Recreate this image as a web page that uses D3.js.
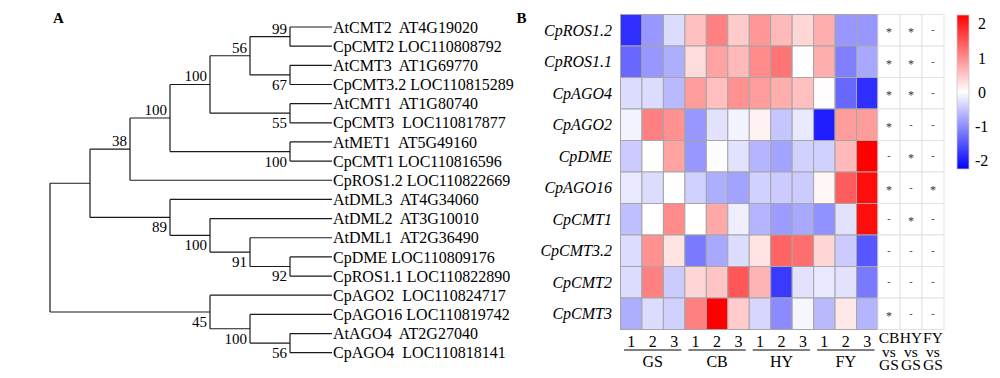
<!DOCTYPE html>
<html><head><meta charset="utf-8">
<script src="https://cdn.jsdelivr.net/npm/d3@7/dist/d3.min.js"></script>
<style>
html,body{margin:0;padding:0;background:#fff;}
svg{display:block;font-family:"Liberation Serif","Times New Roman",serif;}
</style></head>
<body><svg id="chart" width="1000" height="378"></svg>
<script>
// ---------- Panel A: tree ----------
const treeNewick = "(((((((AtCMT2,CpCMT2)99,(AtCMT3,CpCMT3.2)67)56,(AtCMT1,CpCMT3)55)100,(AtMET1,CpCMT1)100)100,CpROS1.2)38,(AtDML3,(AtDML2,(AtDML1,(CpDME,CpROS1.1)92)91)100)89),(CpAGO2,(CpAGO16,(AtAGO4,CpAGO4)56)100)45)";
const leafNames = ["AtCMT2","CpCMT2","AtCMT3","CpCMT3.2","AtCMT1","CpCMT3","AtMET1","CpCMT1","CpROS1.2","AtDML3","AtDML2","AtDML1","CpDME","CpROS1.1","CpAGO2","CpAGO16","AtAGO4","CpAGO4"];
const leafIds = ["AT4G19020","LOC110808792","AT1G69770","LOC110815289","AT1G80740","LOC110817877","AT5G49160","LOC110816596","LOC110822669","AT4G34060","AT3G10010","AT2G36490","LOC110809176","LOC110822890","LOC110824717","LOC110819742","AT2G27040","LOC110818141"];
const leafGap = ["  "," ","  "," ","  ","  ","  "," "," ","  ","  ","  "," "," ","  "," ","  ","  "];

// ---------- Panel B: heatmap ----------
const genes = ["CpROS1.2","CpROS1.1","CpAGO4","CpAGO2","CpDME","CpAGO16","CpCMT1","CpCMT3.2","CpCMT2","CpCMT3"];
const sampleLabels = ["1","2","3","1","2","3","1","2","3","1","2","3"];
const groups = ["GS","CB","HY","FY"];
const values = [
  [-1.8,-0.9,-0.3, 0.55,1.1,0.45, 0.9,0.6,0.35, 0.7,-0.9,-0.9],
  [-1.3,-0.9,-0.7, 0.3,0.8,0.6, 1.0,1.2,0.0, 0.7,-1.1,-0.75],
  [-0.3,-0.3,-0.6, 0.85,0.55,0.95, 0.85,0.7,0.55, 0.02,-1.3,-1.8],
  [-0.1,1.1,0.95, -0.9,-0.25,-0.1, 0.12,-0.5,-0.2, -1.95,0.85,0.85],
  [-0.45,0.0,0.8, -0.9,-0.02,-0.25, -0.65,-0.8,-0.4, -0.4,0.6,2.2],
  [-0.2,-0.3,0.0, -0.4,-0.7,-0.8, -0.4,-0.45,-0.45, 0.08,1.4,2.1],
  [-0.55,0.0,1.0, 0.0,0.75,-0.15, -0.65,-0.85,-0.75, -0.95,-0.25,2.1],
  [-0.3,0.95,0.25, -1.15,-0.75,-0.3, 0.25,1.35,1.25, 0.35,-0.45,-1.45],
  [-0.3,1.1,-0.45, 0.35,0.5,1.45, 0.65,-1.7,-0.25, -0.2,-0.25,-1.15],
  [-0.7,-0.3,-0.4, 1.1,2.2,0.45, -0.35,-1.0,-0.08, -0.6,0.2,-0.65]
];
const comparisons = ["CB vs GS","HY vs GS","FY vs GS"];
const signif = [
  ["*","*","-"],["*","*","-"],["*","*","-"],["*","-","-"],["-","*","-"],
  ["*","-","*"],["-","*","-"],["-","-","-"],["-","-","-"],["*","-","-"]
];
const legendTicks = [2,1,0,-1,-2];

// ---------- parse newick ----------
function parseNewick(s){
  let i=0;
  function node(){
    const n={};
    if(s[i]==="("){
      i++; n.children=[];
      while(true){ n.children.push(node()); if(s[i]===","){i++;continue;} if(s[i]===")"){i++;break;} }
    }
    let tok="";
    while(i<s.length && !",()".includes(s[i])){tok+=s[i];i++;}
    if(n.children){ if(tok) n.support=tok; } else n.name=tok;
    return n;
  }
  return node();
}

const svg = d3.select("#chart");
const ink = "#1a1a1a";

const root = d3.hierarchy(parseNewick(treeNewick));
const xT = d3.scaleLinear().domain([root.height,0]).range([50,330]);
const yT = d3.scalePoint().domain(leafNames).range([27,352.7]);
root.eachAfter(n=>{
  n.px = xT(n.height);
  if(!n.children) n.py = yT(n.data.name);
  else n.py = (n.children[0].py + n.children[n.children.length-1].py)/2;
});
const gT = svg.append("g");
root.each(n=>{
  if(n.children){
    gT.append("line").attr("x1",n.px).attr("x2",n.px)
      .attr("y1",n.children[0].py).attr("y2",n.children[n.children.length-1].py)
      .attr("stroke",ink).attr("stroke-width",1.2);
  }
  if(n.parent){
    const xe = n.children ? n.px : n.px+2;
    gT.append("line").attr("x1",n.parent.px).attr("x2",xe)
      .attr("y1",n.py).attr("y2",n.py).attr("stroke",ink).attr("stroke-width",1.2);
  }
  if(n.children && n.data.support){
    const first = n.parent && n.parent.children[0]===n;
    gT.append("text").attr("x",n.px-3).attr("y",first? n.py-3 : n.py+15)
      .attr("text-anchor","end").attr("font-size",15).attr("fill","#000")
      .text(n.data.support);
  }
});
root.leaves().forEach(n=>{
  const k = leafNames.indexOf(n.data.name);
  gT.append("text").attr("x",333).attr("y",n.py).attr("dy","0.35em")
    .attr("font-size",16).attr("fill","#000").attr("xml:space","preserve")
    .style("white-space","pre")
    .text(n.data.name + leafGap[k] + leafIds[k]);
});
svg.append("text").attr("x",53).attr("y",23.3).attr("font-size",15).attr("font-weight","bold").text("A");
svg.append("text").attr("x",516.5).attr("y",22.7).attr("font-size",15).attr("font-weight","bold").text("B");

// ---------- heatmap ----------
const xH = d3.scaleBand().domain(d3.range(sampleLabels.length)).range([620.5,878]);
const yH = d3.scaleBand().domain(genes).range([14.5,329.5]);
const color = d3.scaleLinear().domain([-2.2,0,2.2]).range(["#0000ff","#ffffff","#ff0000"]).clamp(true);
const gH = svg.append("g");
values.forEach((row,r)=>{
  row.forEach((v,c)=>{
    gH.append("rect").attr("x",xH(c)).attr("y",yH(genes[r]))
      .attr("width",xH.bandwidth()).attr("height",yH.bandwidth())
      .attr("fill",color(v)).attr("stroke","#a6a6a6").attr("stroke-width",1);
  });
});
genes.forEach(g=>{
  gH.append("text").attr("x",612).attr("y",yH(g)+yH.bandwidth()/2).attr("dy","0.35em")
    .attr("text-anchor","end").attr("font-size",16).attr("font-style","italic").text(g);
});
sampleLabels.forEach((s,c)=>{
  gH.append("text").attr("x",xH(c)+xH.bandwidth()/2).attr("y",346.5)
    .attr("text-anchor","middle").attr("font-size",16).text(s);
});
groups.forEach((g,i)=>{
  const x0 = xH(i*3), x1 = xH(i*3+2)+xH.bandwidth();
  gH.append("line").attr("x1",x0+3.5).attr("x2",x1-3.5).attr("y1",350).attr("y2",350)
    .attr("stroke","#555").attr("stroke-width",1.5);
  gH.append("text").attr("x",(x0+x1)/2).attr("y",366.5).attr("text-anchor","middle")
    .attr("font-size",16).text(g);
});

// ---------- significance columns ----------
const xS = d3.scaleBand().domain(comparisons).range([878,944]);
signif.forEach((row,r)=>{
  row.forEach((s,c)=>{
    const cx = xS(comparisons[c]), cy = yH(genes[r]);
    gH.append("rect").attr("x",cx).attr("y",cy).attr("width",xS.bandwidth()).attr("height",yH.bandwidth())
      .attr("fill","#fff").attr("stroke","#e2e2e2").attr("stroke-width",1);
    gH.append("text").attr("x",cx+xS.bandwidth()/2)
      .attr("y",cy+yH.bandwidth()/2 + (s==="*"?6:3))
      .attr("text-anchor","middle").attr("font-size",s==="*"?12:10).attr("fill","#333").text(s);
  });
});
comparisons.forEach(cmp=>{
  const parts = cmp.split(" ");
  const cx = xS(cmp)+xS.bandwidth()/2;
  [343,356.5,369.5].forEach((yy,i)=>{
    gH.append("text").attr("x",cx).attr("y",yy).attr("text-anchor","middle")
      .attr("font-size",15.5).text(parts[i]);
  });
});

// ---------- legend ----------
const yL = d3.scaleLinear().domain([-2.26,2.26]).range([169,15]);
const defs = svg.append("defs");
const grad = defs.append("linearGradient").attr("id","lg").attr("x1",0).attr("x2",0).attr("y1",1).attr("y2",0);
[-2.26,0,2.26].forEach(v=>{
  grad.append("stop").attr("offset",(v+2.26)/4.52).attr("stop-color",color(v));
});
svg.append("rect").attr("x",957).attr("y",yL(2.26)).attr("width",12).attr("height",yL(-2.26)-yL(2.26))
  .attr("fill","url(#lg)").attr("stroke","#c8c8c8").attr("stroke-width",0.8);
legendTicks.forEach(t=>{
  svg.append("text").attr("x",t<0?975:978).attr("y",yL(t)).attr("dy","0.35em")
    .attr("font-size",16).text(t<0? "-"+Math.abs(t) : String(t));
});
</script></body></html>
